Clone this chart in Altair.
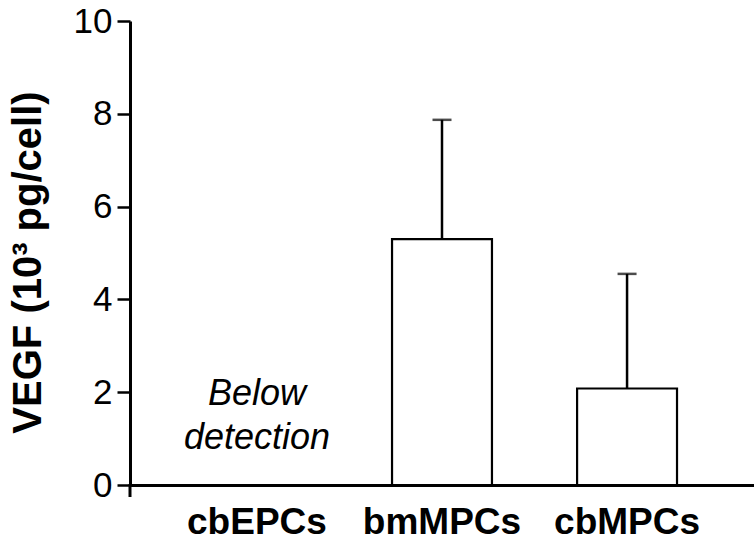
import altair as alt
import pandas as pd

categories = ["cbEPCs", "bmMPCs", "cbMPCs"]
means = [None, 5.3, 2.08]
upper = [None, 7.87, 4.55]
note_text = ["Below", "detection"]

W, H = 624, 464
FONT = "Liberation Sans"

bars_df = pd.DataFrame({"cat": categories, "mean": means, "upper": upper})
note_df = pd.DataFrame({"cat": [categories[0]], "y": [1.72], "text": [note_text]})

xscale = alt.Scale(domain=categories, paddingInner=0.46, paddingOuter=0.416)
yscale = alt.Scale(domain=[0, 10], nice=False)

x_axis = alt.Axis(title=None, labelAngle=0, ticks=False, domainWidth=3,
                  domainColor="black", labelFont=FONT, labelFontSize=37,
                  labelFontWeight="bold", labelColor="black", labelPadding=19,
                  labelAlign="center", labelBaseline="top")
y_axis = alt.Axis(title="VEGF (10³ pg/cell)", values=[0, 2, 4, 6, 8, 10],
                  grid=False, tickSize=13, tickWidth=2.5, tickColor="black",
                  domainWidth=3, domainColor="black", labelFont=FONT,
                  labelFontSize=35, labelColor="black", labelPadding=5,
                  titleFont=FONT, titleFontSize=40, titleFontWeight="bold",
                  titleColor="black", titlePadding=25, titleY=241)

base = alt.Chart(bars_df).encode(
    x=alt.X("cat:N", scale=xscale, sort=categories, axis=x_axis),
)

bars = base.mark_bar(fill="white", stroke="black", strokeWidth=2.2).encode(
    y=alt.Y("mean:Q", scale=yscale, axis=y_axis),
)
err = base.mark_rule(color="black", strokeWidth=2.5).encode(
    y=alt.Y("mean:Q", scale=yscale, axis=y_axis),
    y2="upper:Q",
)
caps = base.mark_tick(color="black", thickness=2.5, size=19).encode(
    y=alt.Y("upper:Q", scale=yscale, axis=y_axis),
)
note = alt.Chart(note_df).mark_text(font=FONT, fontSize=36, fontStyle="italic",
                                    color="black", baseline="alphabetic",
                                    align="center", lineHeight=44).encode(
    x=alt.X("cat:N", scale=xscale, sort=categories, axis=x_axis),
    y=alt.Y("y:Q", scale=yscale, axis=y_axis),
    text="text",
)
ext = alt.Chart(note_df).mark_rule(color="black", strokeWidth=3).encode(
    x=alt.value(0), y=alt.value(H - 1), y2=alt.value(H + 12),
)

chart = alt.layer(bars, err, caps, note, ext).properties(
    width=W, height=H,
    autosize=alt.AutoSizeParams(type="none"),
    padding={"left": 130, "top": 21, "right": 0, "bottom": 57},
    background="white",
).configure_view(stroke=None)

chart.save("out.html", embed_options={"renderer": "svg", "actions": False})
